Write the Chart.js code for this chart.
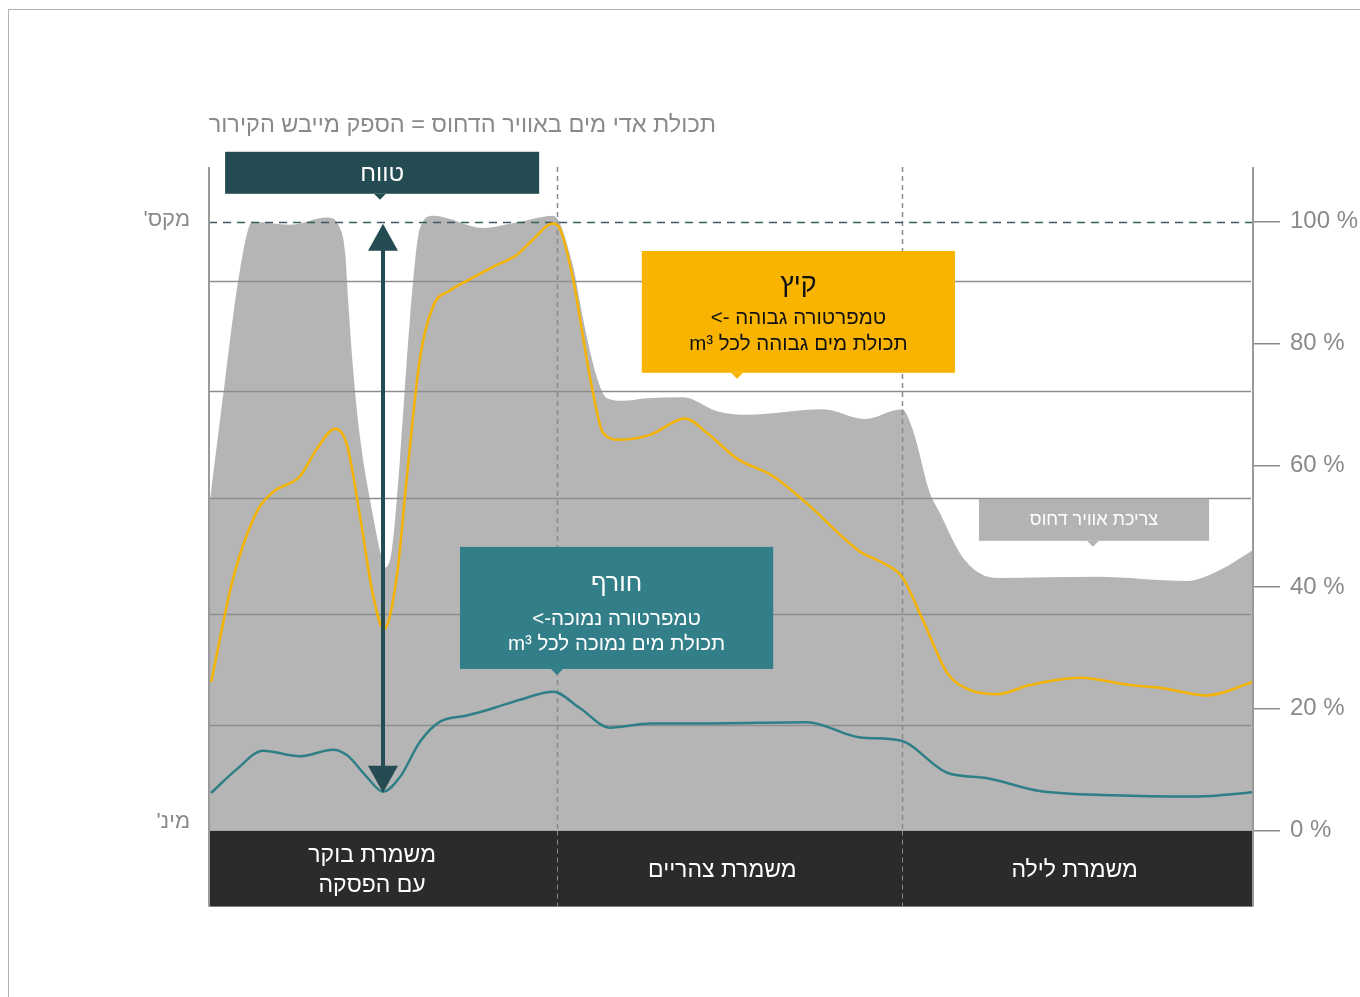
<!DOCTYPE html>
<html lang="he">
<head>
<meta charset="utf-8">
<script src="https://cdn.jsdelivr.net/npm/chart.js@4/dist/chart.umd.min.js"></script>
<style>
  html, body { margin: 0; padding: 0; background: #fff; }
  #frame {
    position: absolute; left: 8px; top: 9px; width: 1352px; height: 988px;
    border-top: 1px solid #b0b0b0; border-left: 1px solid #b0b0b0;
  }
  #chart { position: absolute; left: 0; top: 0; }
</style>
</head>
<body>
<div id="frame"></div>
<canvas id="chart" width="1360" height="997"></canvas>
<script>
// hours of the day (0-24) and percent of dryer capacity
const demandHours = [0, 0.37, 0.71, 1.0, 1.86, 2.71, 3.01, 3.13, 3.2, 3.31, 3.47, 3.77,
    3.98, 4.05, 4.21, 4.39, 4.62, 4.85, 5.15, 6.3, 7.15, 7.91, 8.37, 8.6, 8.92, 9.15,
    9.52, 10.07, 10.9, 11.68, 12.37, 14.11, 15.08, 15.93, 16.18, 16.57, 16.8, 17.26,
    17.66, 18.11, 20.41, 22.48, 23.24, 24];
const demandPct = [53, 74, 92, 100, 99.5, 100.7, 99, 95, 87, 76, 64.7, 51.7,
    44.5, 43.2, 46.4, 61, 84, 99, 101, 99, 100, 101, 92.6, 84, 74.4, 71,
    70.6, 71, 71.2, 68.9, 68.3, 69.2, 67.6, 69.2, 65.8, 55.5, 52.2, 45.6,
    42.5, 41.5, 41.7, 41, 42.8, 46.1];

const summerHours = [0.05, 0.55, 1.1, 1.47, 2.09, 2.48, 2.9, 3.17, 3.47, 3.77, 4.02,
    4.32, 4.55, 4.85, 5.15, 5.54, 5.93, 6.53, 7.08, 7.45, 7.9, 8.05, 8.37, 8.6, 8.83,
    9.06, 9.45, 10.14, 10.94, 11.45, 12.14, 12.97, 13.75, 14.97, 15.43, 15.93, 16.41,
    16.97, 17.49, 18.11, 18.87, 20.02, 21.17, 21.93, 22.94, 24];
const summerPct = [24.4, 41.3, 52.4, 55.6, 58.2, 62.7, 66, 63.4, 51.7, 38.7, 33.1,
    41.9, 58.2, 77.6, 86.1, 88.7, 90.3, 92.6, 94.6, 97.1, 99.7, 99.1, 90.6, 81, 71.8,
    65.3, 64.2, 65, 67.7, 65.3, 61.1, 58.2, 53.7, 45.8, 44.2, 41.7, 34.6,
    25.9, 23.1, 22.4, 23.9, 25.1, 23.9, 23.4, 22.2, 24.4];

const winterHours = [0.05, 0.64, 1.24, 2.09, 2.85, 3.17, 3.63, 4.0, 4.39, 4.85, 5.31,
    5.93, 6.53, 7.15, 7.91, 8.53, 9.22, 10.14, 11.45, 13.75, 14.97, 15.89, 16.97,
    17.89, 19.1, 20.78, 22.71, 24];
const winterPct = [6.2, 10.1, 13.1, 12.2, 13.3, 12.4, 8.8, 6.4, 8.8, 14.6, 17.9,
    18.9, 20.1, 21.5, 22.8, 20.1, 16.9, 17.6, 17.6, 17.8, 15.3, 14.8, 9.5,
    8.6, 6.5, 5.8, 5.6, 6.3];

const pctTicks = [0, 20, 40, 60, 80, 100];
const gridLevels = [17.4, 35.6, 54.6, 72.2, 90.3];
const shiftBounds = [8, 15.93];
const shiftLabels = [['משמרת בוקר', 'עם הפסקה'], ['משמרת צהריים'], ['משמרת לילה']];

const titleText = 'תכולת אדי מים באוויר הדחוס = הספק מייבש הקירור';
const rangeText = 'טווח';
const summerText = ['קיץ', 'טמפרטורה גבוהה ->', 'תכולת מים גבוהה לכל m³'];
const winterText = ['חורף', 'טמפרטורה נמוכה->', 'תכולת מים נמוכה לכל m³'];
const demandText = 'צריכת אוויר דחוס';

const FONT = '"Liberation Sans", Arial, sans-serif';
const GREY_TEXT = '#8a8a8a';

function toPoints(xs, ys) {
    return xs.map((x, i) => ({ x: x, y: ys[i] }));
}

function callout(ctx, chart, box) {
    const xs = chart.scales.x, ys = chart.scales.y;
    const l = xs.getPixelForValue(box.from), r = xs.getPixelForValue(box.to);
    const t = ys.getPixelForValue(box.top), b = ys.getPixelForValue(box.bottom);
    const px = xs.getPixelForValue(box.pointer);
    ctx.fillStyle = box.color;
    ctx.fillRect(l, t, r - l, b - t);
    ctx.beginPath();
    ctx.moveTo(px - 6, b);
    ctx.lineTo(px + 6, b);
    ctx.lineTo(px, b + 6);
    ctx.closePath();
    ctx.fill();
    ctx.fillStyle = box.textColor;
    ctx.textAlign = 'center';
    ctx.textBaseline = 'middle';
    ctx.direction = 'rtl';
    const cx = (l + r) / 2;
    box.lines.forEach((txt, i) => {
        ctx.font = box.sizes[i] + 'px ' + FONT;
        ctx.fillText(txt, cx, t + box.offsets[i]);
    });
}

const overlay = {
    id: 'overlay',
    afterDatasetDraw(chart, args) {
        if (args.index !== 2) return;
        const ctx = chart.ctx, area = chart.chartArea;
        const xs = chart.scales.x, ys = chart.scales.y;
        ctx.save();
        // horizontal guide lines over the demand area
        ctx.strokeStyle = '#8e8e8e';
        ctx.lineWidth = 1.5;
        chart.scales.yL.ticks.forEach(t => {
            const y = Math.round(chart.scales.yL.getPixelForValue(t.value)) + 0.5;
            ctx.beginPath();
            ctx.moveTo(area.left, y);
            ctx.lineTo(area.right - 2, y);
            ctx.stroke();
        });
        // shift boundaries
        ctx.strokeStyle = '#8a8a8a';
        ctx.setLineDash([5, 4]);
        shiftBounds.forEach(h => {
            const x = Math.round(xs.getPixelForValue(h)) + 0.5;
            ctx.beginPath();
            ctx.moveTo(x, area.top);
            ctx.lineTo(x, area.bottom);
            ctx.stroke();
        });
        // maximum level
        ctx.strokeStyle = '#3d5a5f';
        ctx.setLineDash([8, 6]);
        const yMax = Math.round(ys.getPixelForValue(100)) + 0.5;
        ctx.beginPath();
        ctx.moveTo(area.left, yMax);
        ctx.lineTo(area.right, yMax);
        ctx.stroke();
        ctx.restore();
    },
    afterDraw(chart) {
        const ctx = chart.ctx, area = chart.chartArea;
        const xs = chart.scales.x, ys = chart.scales.y;
        const bandBottom = area.bottom + 76;
        ctx.save();

        // shift band under the plot
        ctx.fillStyle = '#2b2b2b';
        ctx.fillRect(area.left, area.bottom, area.right - area.left, bandBottom - area.bottom);
        ctx.strokeStyle = '#8a8a8a';
        ctx.lineWidth = 1;
        ctx.setLineDash([5, 4]);
        shiftBounds.forEach(h => {
            const x = Math.round(xs.getPixelForValue(h)) + 0.5;
            ctx.beginPath();
            ctx.moveTo(x, area.bottom);
            ctx.lineTo(x, bandBottom);
            ctx.stroke();
        });
        ctx.setLineDash([]);
        ctx.fillStyle = '#ffffff';
        ctx.font = '23px ' + FONT;
        ctx.textAlign = 'center';
        ctx.textBaseline = 'middle';
        ctx.direction = 'rtl';
        const shiftTextX = [3.75, 11.8, 19.9];
        shiftLabels.forEach((lines, i) => {
            const x = xs.getPixelForValue(shiftTextX[i]);
            const mid = area.bottom + 40;
            lines.forEach((txt, j) => {
                ctx.fillText(txt, x, mid + (j - (lines.length - 1) / 2) * 30);
            });
        });

        // axis lines
        ctx.strokeStyle = '#9a9a9a';
        ctx.lineWidth = 2;
        [area.left, area.right].forEach(x => {
            ctx.beginPath();
            ctx.moveTo(x, area.top);
            ctx.lineTo(x, bandBottom);
            ctx.stroke();
        });

        // title and min / max labels
        ctx.fillStyle = GREY_TEXT;
        ctx.font = '23.5px ' + FONT;
        ctx.textAlign = 'right';
        ctx.fillText(titleText, 716, 126);
        ctx.font = '22px ' + FONT;
        ctx.textBaseline = 'alphabetic';
        ctx.fillText("מקס'", area.left - 19, ys.getPixelForValue(100) + 4);
        ctx.fillText("מינ'", area.left - 19, ys.getPixelForValue(0) - 3);

        // range arrow between winter minimum and the maximum
        const ax = xs.getPixelForValue(4.0);
        const top = ys.getPixelForValue(100) + 2;
        const bot = ys.getPixelForValue(Math.min(...winterPct.slice(0, 12)));
        ctx.strokeStyle = '#244c52';
        ctx.fillStyle = '#244c52';
        ctx.lineWidth = 4;
        ctx.beginPath();
        ctx.moveTo(ax, top + 20);
        ctx.lineTo(ax, bot - 20);
        ctx.stroke();
        ctx.beginPath();
        ctx.moveTo(ax, top);
        ctx.lineTo(ax - 15, top + 27);
        ctx.lineTo(ax + 15, top + 27);
        ctx.closePath();
        ctx.fill();
        ctx.beginPath();
        ctx.moveTo(ax, bot);
        ctx.lineTo(ax - 15, bot - 27);
        ctx.lineTo(ax + 15, bot - 27);
        ctx.closePath();
        ctx.fill();

        // callouts
        callout(ctx, chart, { from: 0.37, to: 7.59, top: 111.5, bottom: 104.6, pointer: 3.93,
            color: '#244c52', textColor: '#ffffff', lines: [rangeText], sizes: [24], offsets: [23] });
        callout(ctx, chart, { from: 9.95, to: 17.15, top: 95.2, bottom: 75.2, pointer: 12.14,
            color: '#f8b400', textColor: '#111111', lines: summerText, sizes: [27, 20.5, 20.5], offsets: [34, 67, 93] });
        callout(ctx, chart, { from: 5.77, to: 12.97, top: 46.6, bottom: 26.55, pointer: 8.0,
            color: '#327f89', textColor: '#ffffff', lines: winterText, sizes: [25, 20.5, 20.5], offsets: [37, 72, 97] });
        callout(ctx, chart, { from: 17.7, to: 22.99, top: 54.5, bottom: 47.6, pointer: 20.32,
            color: '#b3b3b3', textColor: '#ffffff', lines: [demandText], sizes: [18], offsets: [21] });
        ctx.restore();
    }
};

document.addEventListener('DOMContentLoaded', function() {
    new Chart(document.getElementById('chart').getContext('2d'), {
        type: 'line',
        data: {
            datasets: [{
                label: 'summer',
                data: toPoints(summerHours, summerPct),
                borderColor: '#f5b301',
                borderWidth: 2.5,
                pointRadius: 0,
                cubicInterpolationMode: 'monotone',
                fill: false,
                order: 1
            }, {
                label: 'winter',
                data: toPoints(winterHours, winterPct),
                borderColor: '#2f7f87',
                borderWidth: 2.5,
                pointRadius: 0,
                cubicInterpolationMode: 'monotone',
                fill: false,
                order: 2
            }, {
                label: 'demand',
                data: toPoints(demandHours, demandPct),
                backgroundColor: '#b5b5b5',
                borderWidth: 0,
                pointRadius: 0,
                cubicInterpolationMode: 'monotone',
                fill: 'origin',
                order: 3
            }]
        },
        options: {
            responsive: false,
            animation: false,
            layout: { padding: { top: 167, bottom: 166.4, left: 0, right: 0 } },
            plugins: { legend: { display: false }, tooltip: { enabled: false } },
            scales: {
                x: { type: 'linear', min: 0, max: 24, display: false },
                y: {
                    type: 'linear',
                    position: 'right',
                    min: 0,
                    max: 109,
                    afterBuildTicks: ax => { ax.ticks = pctTicks.map(v => ({ value: v })); },
                    afterFit: ax => { ax.width = 107; },
                    border: { display: false },
                    grid: { drawOnChartArea: false, tickLength: 27, color: '#8a8a8a', lineWidth: 1.5 },
                    ticks: {
                        padding: 10,
                        color: GREY_TEXT,
                        font: { family: FONT, size: 24 },
                        callback: v => v + ' %'
                    }
                },
                yL: {
                    type: 'linear',
                    position: 'left',
                    min: 0,
                    max: 109,
                    afterBuildTicks: ax => { ax.ticks = gridLevels.map(v => ({ value: v })); },
                    afterFit: ax => { ax.width = 209; },
                    border: { display: false },
                    grid: { display: false },
                    ticks: { display: false }
                }
            }
        },
        plugins: [overlay]
    });
});
</script>
</body>
</html>
